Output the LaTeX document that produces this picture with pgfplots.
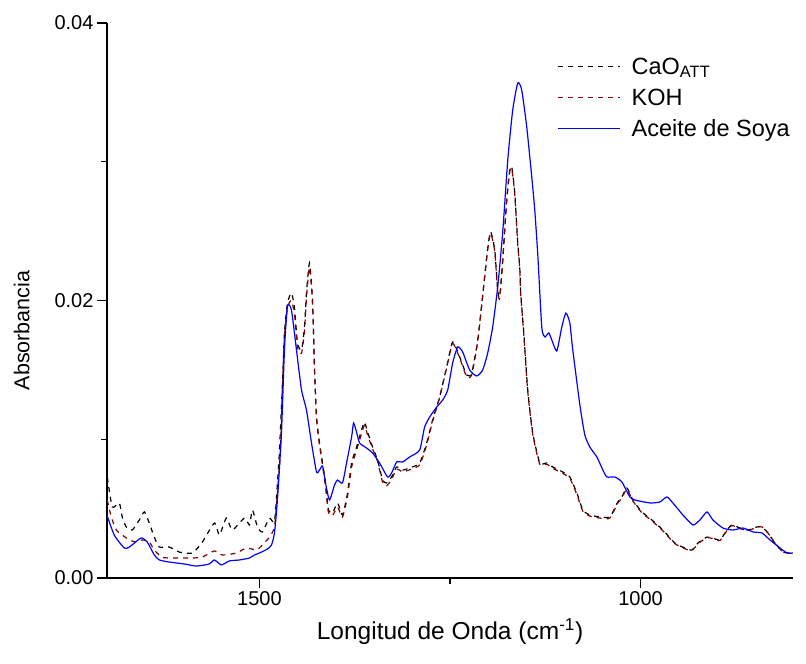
\documentclass[border=0pt]{standalone}
\usepackage{fontspec}
\setmainfont{Liberation Sans}
\usepackage{pgfplots}
\pgfplotsset{compat=1.18}

\definecolor{kohred}{RGB}{128,0,0}
\definecolor{oilblue}{RGB}{0,0,255}

\begin{document}
\begin{tikzpicture}
\begin{axis}[
  scale only axis,
  width=686pt, height=555pt,
  x dir=reverse,
  xmin=800, xmax=1700,
  ymin=0, ymax=0.04,
  axis x line*=bottom,
  axis y line*=left,
  axis line style={-, line width=1.6pt},
  xtick={1000,1500},
  minor xtick={1250},
  ytick={0,0.02,0.04},
  minor ytick={0.01,0.03},
  scaled y ticks=false,
  tick align=outside,
  major tick length=10pt,
  minor tick length=6pt,
  tick style={line width=1.4pt, black},
  /pgf/number format/assume math mode=true,
  x tick label style={/pgf/number format/1000 sep={}},
  y tick label style={/pgf/number format/fixed, /pgf/number format/fixed zerofill, /pgf/number format/precision=2},
  ticklabel style={font=\fontsize{20}{24}\selectfont},
  xlabel={Longitud de Onda (cm\textsuperscript{-1})},
  ylabel={Absorbancia},
  xlabel style={font=\fontsize{24.5}{29}\selectfont, yshift=-6pt},
  ylabel style={font=\fontsize{21.5}{26}\selectfont, yshift=18pt, xshift=-30pt},
  legend cell align=left,
  legend style={at={(rel axis cs:0.652,0.945)}, anchor=north west,
    draw=none, fill=none, font=\fontsize{23.5}{28}\selectfont,
    row sep=9pt, column sep=9pt},
  legend image code/.code={\draw[#1] (0pt,0pt) -- (62pt,0pt);},
  every axis plot/.append style={line width=1.2pt, smooth, tension=0.35},
]

% CaO (ATT) catalyst
\addplot[black, dash pattern=on 5pt off 5pt] table {
x y
1699.6 0.00728
1693.1 0.00512
1683.9 0.00541
1680.0 0.00440
1674.7 0.00368
1666.8 0.00346
1657.6 0.00418
1651.0 0.00476
1644.5 0.00396
1637.9 0.00295
1631.3 0.00223
1618.2 0.00223
1605.1 0.00187
1588.0 0.00180
1574.9 0.00259
1559.1 0.00396
1552.5 0.00310
1543.4 0.00432
1535.5 0.00346
1519.7 0.00432
1513.1 0.00382
1509.2 0.00490
1502.6 0.00368
1496.1 0.00332
1486.9 0.00432
1480.3 0.00404
1476.4 0.00685
1473.7 0.00922
1469.8 0.01405
1467.2 0.01766
1463.2 0.01982
1458.0 0.02054
1454.0 0.01946
1450.1 0.01694
1444.8 0.01643
1440.9 0.01809
1438.3 0.02054
1434.3 0.02270
1430.4 0.02004
1427.8 0.01521
1425.1 0.01160
1421.2 0.00973
1417.2 0.00829
1413.3 0.00685
1409.4 0.00490
1404.1 0.00468
1397.5 0.00541
1391.0 0.00454
1384.4 0.00613
1379.1 0.00829
1372.6 0.00944
1366.0 0.01067
1362.1 0.01124
1358.1 0.01052
1351.6 0.00944
1345.0 0.00850
1338.4 0.00706
1333.2 0.00685
1326.6 0.00728
1320.0 0.00800
1312.2 0.00778
1303.0 0.00793
1289.8 0.00829
1280.6 0.00973
1272.8 0.01139
1263.6 0.01304
1254.4 0.01521
1246.5 0.01701
1237.3 0.01593
1228.1 0.01463
1221.5 0.01477
1213.6 0.01715
1207.1 0.02040
1200.5 0.02378
1196.6 0.02494
1191.3 0.02364
1187.4 0.02076
1184.8 0.02025
1180.8 0.02292
1175.6 0.02724
1171.6 0.02940
1169.0 0.02962
1165.0 0.02775
1161.1 0.02414
1158.5 0.02241
1157.2 0.02054
1153.2 0.01766
1148.0 0.01355
1141.4 0.01045
1132.2 0.00829
1123.0 0.00829
1115.1 0.00800
1102.0 0.00764
1092.8 0.00728
1083.6 0.00613
1075.7 0.00490
1066.5 0.00454
1053.4 0.00440
1040.3 0.00440
1029.8 0.00548
1024.5 0.00584
1017.9 0.00649
1010.1 0.00562
998.2 0.00476
985.1 0.00418
970.7 0.00346
954.9 0.00252
941.8 0.00216
932.6 0.00202
924.7 0.00252
912.9 0.00295
905.0 0.00288
895.8 0.00274
886.6 0.00346
880.0 0.00382
869.5 0.00360
859.0 0.00346
847.2 0.00368
840.6 0.00368
832.8 0.00324
823.6 0.00252
813.0 0.00187
799.9 0.00180
};
\addlegendentry{CaO\textsubscript{ATT}}

% KOH catalyst
\addplot[kohred, dash pattern=on 5pt off 5pt] table {
x y
1699.6 0.00562
1694.4 0.00440
1687.8 0.00346
1680.0 0.00310
1670.7 0.00274
1661.6 0.00259
1653.7 0.00274
1644.5 0.00259
1637.9 0.00202
1628.7 0.00151
1618.2 0.00144
1601.1 0.00144
1588.0 0.00144
1574.9 0.00151
1559.1 0.00195
1548.6 0.00166
1530.2 0.00180
1517.1 0.00216
1503.9 0.00202
1496.1 0.00238
1486.9 0.00295
1480.3 0.00368
1476.4 0.00613
1472.4 0.00922
1469.8 0.01380
1467.2 0.01740
1463.2 0.01950
1458.0 0.02000
1454.0 0.01900
1450.1 0.01660
1444.8 0.01620
1440.9 0.01780
1438.3 0.02020
1434.3 0.02240
1430.4 0.01990
1427.8 0.01510
1425.1 0.01150
1421.2 0.00960
1417.2 0.00810
1413.3 0.00660
1409.4 0.00470
1404.1 0.00450
1397.5 0.00510
1391.0 0.00440
1384.4 0.00590
1379.1 0.00800
1372.6 0.00920
1366.0 0.01040
1362.1 0.01100
1358.1 0.01030
1351.6 0.00930
1345.0 0.00840
1338.4 0.00690
1333.2 0.00665
1326.6 0.00710
1320.0 0.00785
1312.2 0.00765
1303.0 0.00780
1289.8 0.00815
1280.6 0.00960
1272.8 0.01130
1263.6 0.01300
1254.4 0.01515
1246.5 0.01690
1237.3 0.01585
1228.1 0.01450
1221.5 0.01465
1213.6 0.01705
1207.1 0.02030
1200.5 0.02370
1196.6 0.02485
1191.3 0.02355
1187.4 0.02066
1184.8 0.02015
1180.8 0.02285
1175.6 0.02715
1171.6 0.02930
1169.0 0.02952
1165.0 0.02765
1161.1 0.02404
1158.5 0.02231
1157.2 0.02044
1153.2 0.01756
1148.0 0.01345
1141.4 0.01035
1132.2 0.00820
1123.0 0.00820
1115.1 0.00790
1102.0 0.00754
1092.8 0.00718
1083.6 0.00603
1075.7 0.00482
1066.5 0.00446
1053.4 0.00432
1040.3 0.00432
1029.8 0.00540
1024.5 0.00576
1017.9 0.00641
1010.1 0.00555
998.2 0.00470
985.1 0.00412
970.7 0.00340
954.9 0.00247
941.8 0.00211
932.6 0.00198
924.7 0.00247
912.9 0.00290
905.0 0.00284
895.8 0.00270
886.6 0.00342
880.0 0.00378
869.5 0.00356
859.0 0.00342
847.2 0.00366
840.6 0.00368
832.8 0.00324
823.6 0.00252
813.0 0.00187
799.9 0.00178
};
\addlegendentry{KOH}

% Soybean oil
\addplot[oilblue] table {
x y
1701.0 0.00468
1690.5 0.00310
1677.3 0.00216
1670.7 0.00223
1657.6 0.00281
1653.7 0.00288
1647.1 0.00259
1637.9 0.00166
1631.3 0.00130
1618.2 0.00115
1598.5 0.00101
1582.7 0.00086
1565.7 0.00101
1559.1 0.00130
1549.9 0.00094
1539.4 0.00123
1526.3 0.00130
1513.1 0.00144
1506.6 0.00166
1500.0 0.00180
1489.5 0.00209
1484.2 0.00238
1480.3 0.00324
1476.4 0.00562
1471.1 0.01045
1467.2 0.01643
1463.2 0.01960
1458.0 0.01931
1451.4 0.01643
1444.8 0.01355
1438.3 0.01211
1431.7 0.00973
1425.1 0.00764
1421.2 0.00778
1417.2 0.00807
1413.3 0.00685
1408.1 0.00562
1401.5 0.00670
1397.5 0.00706
1391.0 0.00685
1385.7 0.00829
1379.1 0.01016
1376.5 0.01117
1372.6 0.01052
1368.6 0.00973
1359.5 0.00937
1351.6 0.00901
1342.4 0.00829
1331.9 0.00728
1326.6 0.00757
1320.0 0.00836
1312.2 0.00836
1303.0 0.00872
1289.8 0.00922
1283.3 0.01088
1276.7 0.01160
1267.5 0.01232
1259.6 0.01283
1253.0 0.01355
1246.5 0.01550
1239.9 0.01665
1233.4 0.01629
1224.2 0.01499
1215.0 0.01456
1207.1 0.01499
1200.5 0.01622
1194.0 0.01809
1187.4 0.02097
1180.8 0.02494
1174.2 0.03013
1167.7 0.03373
1161.1 0.03567
1155.9 0.03517
1149.3 0.03250
1142.7 0.02890
1138.8 0.02652
1134.8 0.02328
1129.6 0.01809
1125.6 0.01737
1120.4 0.01766
1116.4 0.01715
1109.9 0.01636
1103.3 0.01809
1098.0 0.01910
1092.8 0.01838
1088.9 0.01643
1079.6 0.01247
1073.1 0.01031
1066.5 0.00944
1057.3 0.00872
1049.4 0.00778
1044.2 0.00728
1033.7 0.00728
1024.5 0.00692
1014.0 0.00584
1007.4 0.00562
987.7 0.00541
974.6 0.00548
965.5 0.00584
957.6 0.00541
944.4 0.00454
931.3 0.00382
922.1 0.00418
912.9 0.00476
905.0 0.00418
891.9 0.00360
878.7 0.00346
865.6 0.00360
852.4 0.00332
840.6 0.00324
830.1 0.00274
817.0 0.00216
807.8 0.00180
799.9 0.00180
};
\addlegendentry{Aceite de Soya}

\end{axis}
\pgfresetboundingbox
\path[use as bounding box] (-107pt,-86pt) rectangle (699pt,578pt);
\end{tikzpicture}
\end{document}
